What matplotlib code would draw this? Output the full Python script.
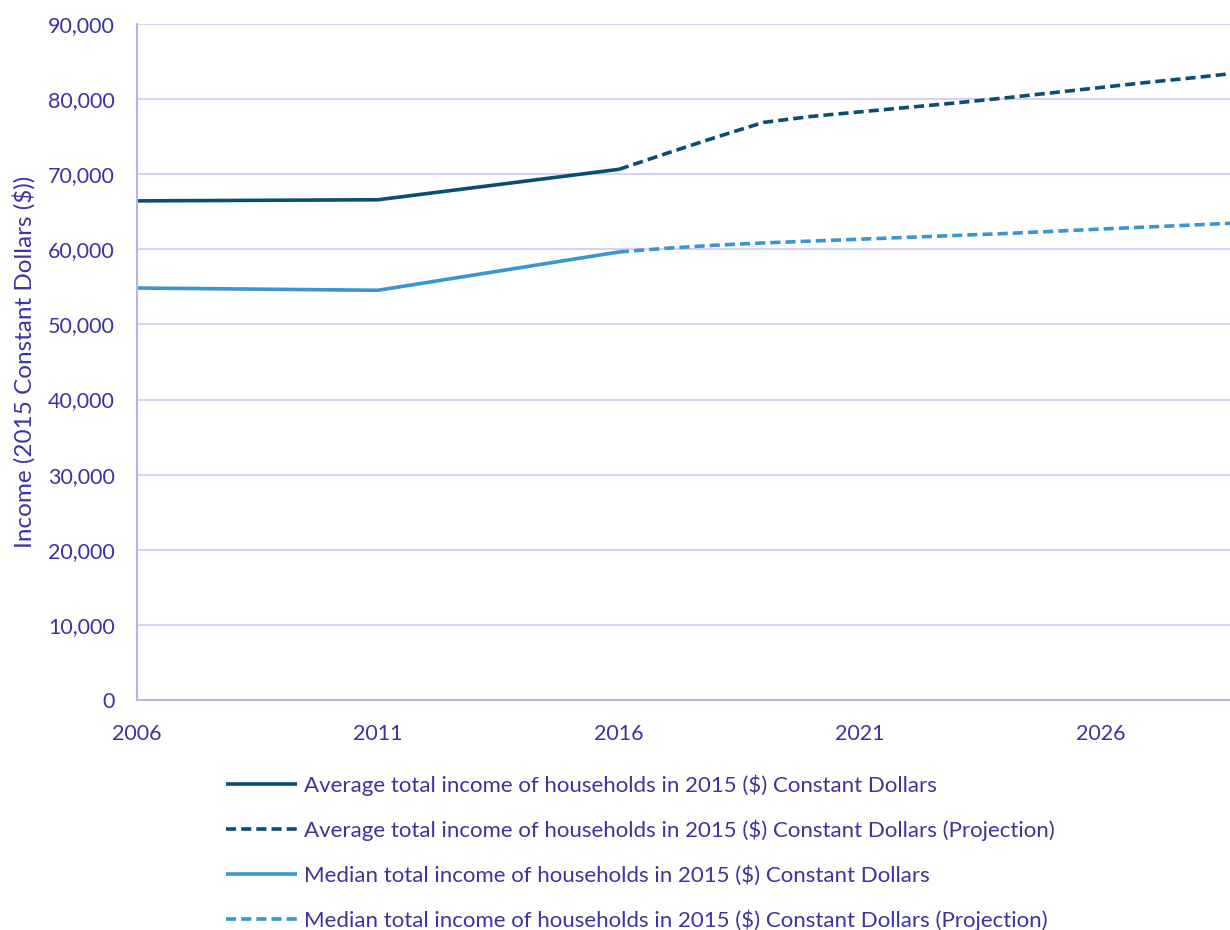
import matplotlib.pyplot as plt
from matplotlib.ticker import FuncFormatter

plt.rcParams["font.family"] = ["Lato", "DejaVu Sans"]

years_hist = [2006, 2011, 2016]
avg_hist = [66450, 66600, 70650]
med_hist = [54850, 54550, 59650]

years_proj = list(range(2016, 2030))
avg_proj = [70650, 72800, 74900, 76900, 77700, 78300, 78900, 79500,
            80150, 80850, 81550, 82250, 82900, 83600]
med_proj = [59650, 60150, 60550, 60850, 61100, 61350, 61600, 61850,
            62100, 62400, 62700, 62980, 63270, 63560]

labels = [
    "Average total income of households in 2015 ($) Constant Dollars",
    "Average total income of households in 2015 ($) Constant Dollars (Projection)",
    "Median total income of households in 2015 ($) Constant Dollars",
    "Median total income of households in 2015 ($) Constant Dollars (Projection)",
]

dark = "#0A4E72"
light = "#3A95D1"
text_col = "#3C34A0"
grid_col = "#D6D2F0"
spine_col = "#B9B3E8"

fig = plt.figure(figsize=(12.3, 9.3), dpi=100)
ax = fig.add_axes([137 / 1230, 1 - 700 / 930, 1 - 137 / 1230, (700 - 24) / 930])

ax.plot(years_hist, avg_hist, color=dark, lw=2.6, label=labels[0],
        solid_capstyle="butt")
ax.plot(years_proj, avg_proj, color=dark, lw=2.6, dashes=(2.8, 1.4),
        label=labels[1])
ax.plot(years_hist, med_hist, color=light, lw=2.6, label=labels[2],
        solid_capstyle="butt")
ax.plot(years_proj, med_proj, color=light, lw=2.6, dashes=(2.8, 1.4),
        label=labels[3])

ax.set_xlim(2006, 2028.68)
ax.set_ylim(0, 90000)
ax.set_xticks([2006, 2011, 2016, 2021, 2026])
ax.set_yticks(range(0, 90001, 10000))
ax.yaxis.set_major_formatter(FuncFormatter(lambda v, p: f"{int(v):,}"))

ax.grid(axis="y", color=grid_col, lw=1.5)
ax.set_axisbelow(True)
for s in ["top", "right"]:
    ax.spines[s].set_visible(False)
for s in ["left", "bottom"]:
    ax.spines[s].set_color(spine_col)
    ax.spines[s].set_linewidth(1.5)

ax.tick_params(axis="both", length=0, labelsize=15.5, labelcolor=text_col)
ax.tick_params(axis="y", pad=16)
ax.tick_params(axis="x", pad=17)
ax.set_ylabel("Income (2015 Constant Dollars ($))", fontsize=17.5,
              color=text_col)
ax.yaxis.set_label_coords(-0.093, 0.5)

fig.legend(loc="upper left", bbox_to_anchor=(226 / 1230, 1 - 774 / 930),
           frameon=False, fontsize=16, labelcolor=text_col,
           handlelength=3.2, handletextpad=0.3, labelspacing=1.08,
           borderpad=0, borderaxespad=0)

fig.savefig("out.png", dpi=100)
